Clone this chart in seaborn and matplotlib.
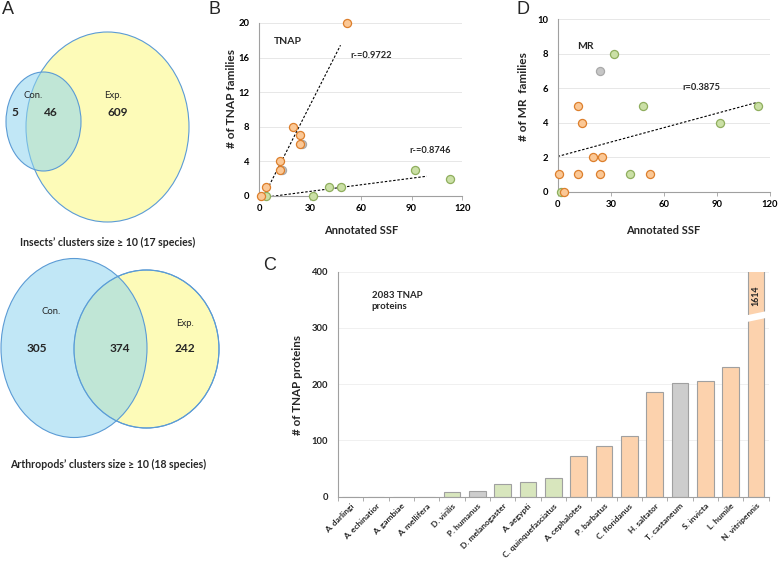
import numpy as np
import pandas as pd
import matplotlib
matplotlib.use("Agg")
import matplotlib.pyplot as plt
import seaborn as sns
from matplotlib.patches import Ellipse, Polygon

# ---------------- data ----------------
# Panel A (Venn counts)
venn1_counts = [5, 46, 609]      # Con. only, shared, Exp. only
venn2_counts = [305, 374, 242]
venn1_caption = "Insects\u2019 clusters size \u2265 10 (17 species)"
venn2_caption = "Arthropods\u2019 clusters size \u2265 10 (18 species)"

# Panel B (TNAP families vs annotated SSF)
b_orange_x = [1, 4, 12, 12, 20, 24, 24, 52]
b_orange_y = [0, 1, 3, 4, 8, 7, 6, 20]
b_gray_x = [13.5, 25]
b_gray_y = [3, 6]
b_green_x = [4, 32, 41, 48, 92, 113]
b_green_y = [0, 0, 1, 1, 3, 2]
b_fit_orange_range = [2.4, 48]
b_fit_green_range = [2.4, 99]

# Panel D (MR families vs annotated SSF)
d_orange_x = [0.6, 3.6, 11.5, 11.5, 14, 20, 24, 25, 52]
d_orange_y = [1, 0, 5, 1, 4, 2, 1, 2, 1]
d_green_x = [1.7, 32, 41, 48, 92, 113]
d_green_y = [0, 8, 1, 5, 4, 5]
d_gray_x = [24]
d_gray_y = [7]
d_fit_range = [0, 112]

# Panel C (TNAP proteins per species)
species = ["A. darlingi", "A. echinatior", "A. gambiae", "A. mellifera", "D. virilis",
           "P. humanus", "D. melanogaster", "A. aegypti", "C. quinquefasciatus",
           "A. cephalotes", "P. barbatus", "C. floridanus", "H. saltator",
           "T. castaneum", "S. invicta", "L. humile", "N. vitripennis"]
proteins = [0, 0, 0, 0, 8, 11, 22, 26, 33, 73, 91, 108, 187, 203, 206, 230, 1614]
groups = ["green", "orange", "green", "orange", "green", "gray", "green", "green", "green",
          "orange", "orange", "orange", "orange", "gray", "orange", "orange", "orange"]

# ---------------- style ----------------
sns.set_theme(style="white")
plt.rcParams["font.family"] = ["Lato", "DejaVu Sans"]

W, H = 778, 563
fig = plt.figure(figsize=(W / 100, H / 100), dpi=100)

def px_axes(l, t, r, b, **kw):
    return fig.add_axes([l / W, 1 - b / H, (r - l) / W, (b - t) / H], **kw)

SC_FACE = {"orange": "#fbc896", "green": "#cbe0a6", "gray": "#c6c6c6"}
SC_EDGE = {"orange": "#dd7f2c", "green": "#8fae5e", "gray": "#a9a9a9"}
BAR_FACE = {"orange": "#fcd2ad", "green": "#d8e6bd", "gray": "#cdcdcd"}
SPINE = "#a0a0a0"
GRID = "#e3e3e3"
TICK_FS = 6.8

def style_axes(ax):
    sns.despine(ax=ax)
    for s in ("left", "bottom"):
        ax.spines[s].set_color(SPINE)
        ax.spines[s].set_linewidth(0.8)
    ax.yaxis.grid(True, color=GRID, lw=0.6)
    ax.xaxis.grid(False)
    ax.set_axisbelow(True)
    ax.set_xlabel("")
    ax.set_ylabel("")

# overlay axes in pixel coordinates
ov = fig.add_axes([0, 0, 1, 1])
ov.set_xlim(0, W)
ov.set_ylim(H, 0)
ov.axis("off")

# panel letters
for lab, x, y in [("A", 2, 9), ("B", 209, 9), ("C", 263, 265), ("D", 517, 9)]:
    ov.text(x, y, lab, fontsize=13, family=["Liberation Sans", "DejaVu Sans"],
            ha="left", va="center")

# ---------------- Panel A: Venn ----------------
BLUE = "#8fd5f0"
YEL = "#fdfbb8"
EDGE = "#5b9bd5"
ov.add_patch(Ellipse((107.5, 127), 163, 190, facecolor=YEL, edgecolor=EDGE, lw=0.8))
ov.add_patch(Ellipse((43.5, 121.5), 75, 99, facecolor=BLUE, alpha=0.55, edgecolor="none"))
ov.add_patch(Ellipse((43.5, 121.5), 75, 99, facecolor="none", edgecolor=EDGE, lw=0.8))
ov.text(33, 96, "Con.", fontsize=6.8, ha="center", va="center")
ov.text(113, 96, "Exp.", fontsize=6.8, ha="center", va="center")
for v, x in zip(venn1_counts, [15, 51, 118]):
    ov.text(x, 113, str(v), fontsize=8.6, fontweight="bold", ha="center", va="center")
ov.text(108, 242, venn1_caption, fontsize=7.6, fontweight="bold", ha="center", va="center")

ov.add_patch(Ellipse((146.5, 349), 145, 158, facecolor=YEL, edgecolor=EDGE, lw=0.8))
ov.add_patch(Ellipse((74, 348), 146, 179, facecolor=BLUE, alpha=0.55, edgecolor="none"))
ov.add_patch(Ellipse((74, 348), 146, 179, facecolor="none", edgecolor=EDGE, lw=0.8))
ov.add_patch(Ellipse((146.5, 349), 145, 158, facecolor="none", edgecolor=EDGE, lw=0.8))
ov.text(51, 312, "Con.", fontsize=6.8, ha="center", va="center")
ov.text(185, 324, "Exp.", fontsize=6.8, ha="center", va="center")
for v, x in zip(venn2_counts, [37, 120, 185]):
    ov.text(x, 349, str(v), fontsize=8.6, fontweight="bold", ha="center", va="center")
ov.text(108, 464, venn2_caption, fontsize=7.6, fontweight="bold", ha="center", va="center")

# ---------------- scatter helper ----------------
def scatter_group(ax, xs, ys, grp):
    sns.scatterplot(x=xs, y=ys, ax=ax, s=34, color=SC_FACE[grp], edgecolor=SC_EDGE[grp],
                    linewidth=0.9, zorder=3, clip_on=False, legend=False)

def fit_line(ax, xs, ys, rng):
    k, c = np.polyfit(xs, ys, 1)
    xr = np.array(rng, dtype=float)
    ax.plot(xr, k * xr + c, color="black", lw=0.8, ls=(0, (2.2, 1.6)), zorder=2)

def tick_style(ax):
    ax.tick_params(axis="both", which="both", labelsize=TICK_FS, colors=SPINE,
                   labelcolor="black", width=0.6)
    ax.tick_params(axis="x", length=3, pad=3, direction="out", bottom=True)
    ax.tick_params(axis="y", length=0, pad=7, left=False)
    for lbl in ax.get_xticklabels() + ax.get_yticklabels():
        lbl.set_fontweight("bold")

# ---------------- Panel B ----------------
axB = px_axes(259.3, 23, 462.3, 196)
scatter_group(axB, b_gray_x, b_gray_y, "gray")
scatter_group(axB, b_green_x, b_green_y, "green")
scatter_group(axB, b_orange_x, b_orange_y, "orange")
fit_line(axB, b_orange_x, b_orange_y, b_fit_orange_range)
fit_line(axB, b_green_x, b_green_y, b_fit_green_range)
axB.set_xlim(0, 120)
axB.set_ylim(0, 20)
axB.set_xticks([0, 30, 60, 90, 120])
axB.set_yticks([0, 4, 8, 12, 16, 20])
style_axes(axB)
tick_style(axB)
axB.text(17, 17.9, "TNAP", fontsize=7.5, fontweight="bold", ha="center", va="center")
axB.text(66, 16.3, "r-=0.9722", fontsize=6.7, fontweight="bold", ha="center", va="center")
axB.text(101, 5.3, "r-=0.8746", fontsize=6.7, fontweight="bold", ha="center", va="center")
ov.text(231.5, 99, "# of TNAP families", rotation=90, fontsize=8.6, fontweight="bold",
        ha="center", va="center")
ov.text(361, 230, "Annotated SSF", fontsize=8, fontweight="bold", ha="center", va="center")

# ---------------- Panel D ----------------
axD = px_axes(557.7, 19.3, 770, 191.7)
scatter_group(axD, d_gray_x, d_gray_y, "gray")
scatter_group(axD, d_green_x, d_green_y, "green")
scatter_group(axD, d_orange_x, d_orange_y, "orange")
fit_line(axD, d_orange_x + d_green_x + d_gray_x, d_orange_y + d_green_y + d_gray_y, d_fit_range)
axD.set_xlim(0, 120)
axD.set_ylim(0, 10)
axD.set_xticks([0, 30, 60, 90, 120])
axD.set_yticks([0, 2, 4, 6, 8, 10])
style_axes(axD)
tick_style(axD)
axD.text(15.4, 8.4, "MR", fontsize=7.5, fontweight="bold", ha="center", va="center")
axD.text(81, 6.05, "r=0.3875", fontsize=6.7, fontweight="bold", ha="center", va="center")
ov.text(524, 97, "# of MR  families", rotation=90, fontsize=8.6, fontweight="bold",
        ha="center", va="center")
ov.text(663, 230, "Annotated SSF", fontsize=8, fontweight="bold", ha="center", va="center")

# ---------------- Panel C ----------------
axC = px_axes(338, 271.7, 768.7, 496.7)
dfC = pd.DataFrame({"species": species, "proteins": proteins, "group": groups})
pal = {s: BAR_FACE[g] for s, g in zip(species, groups)}
sns.barplot(data=dfC, x="species", y="proteins", hue="species", palette=pal, legend=False,
            width=0.66, edgecolor=SPINE, linewidth=0.8, saturation=1, ax=axC)
axC.set_xlim(-0.5, len(species) - 0.5)
axC.set_ylim(0, 400)
axC.set_yticks([0, 100, 200, 300, 400])
style_axes(axC)
axC.yaxis.grid(True, color="#eeeeee", lw=0.6)
axC.set_xticks(np.arange(-0.5, len(species), 1), minor=True)
axC.tick_params(axis="x", which="major", length=0)
axC.tick_params(axis="x", which="minor", length=3, width=0.6, color=SPINE, bottom=True)
axC.tick_params(axis="y", length=0, pad=7, labelsize=TICK_FS)
axC.set_xticks(range(len(species)))
axC.set_xticklabels(species, rotation=45, ha="right", rotation_mode="anchor",
                    fontsize=6.0, fontweight="bold")
axC.tick_params(axis="x", which="major", pad=4)
for lbl in axC.get_yticklabels():
    lbl.set_fontweight("bold")
# axis break on the tallest bar
ib = len(species) - 1
axC.add_patch(Polygon([(ib - 0.42, 310), (ib + 0.42, 318), (ib + 0.42, 330), (ib - 0.42, 322)],
                      closed=True, facecolor="white", edgecolor="none", zorder=5))
axC.text(ib, 357, str(proteins[-1]), rotation=90, fontsize=6.3, fontweight="bold",
         ha="center", va="center", zorder=6)
axC.text(0.83, 366, "2083 TNAP\nproteins", fontsize=6.9, fontweight="bold", ha="left",
         va="top", linespacing=1.25)
ov.text(297.5, 385, "# of TNAP proteins", rotation=90, fontsize=8.4, fontweight="bold",
        ha="center", va="center")

fig.savefig("out.png", dpi=100)
